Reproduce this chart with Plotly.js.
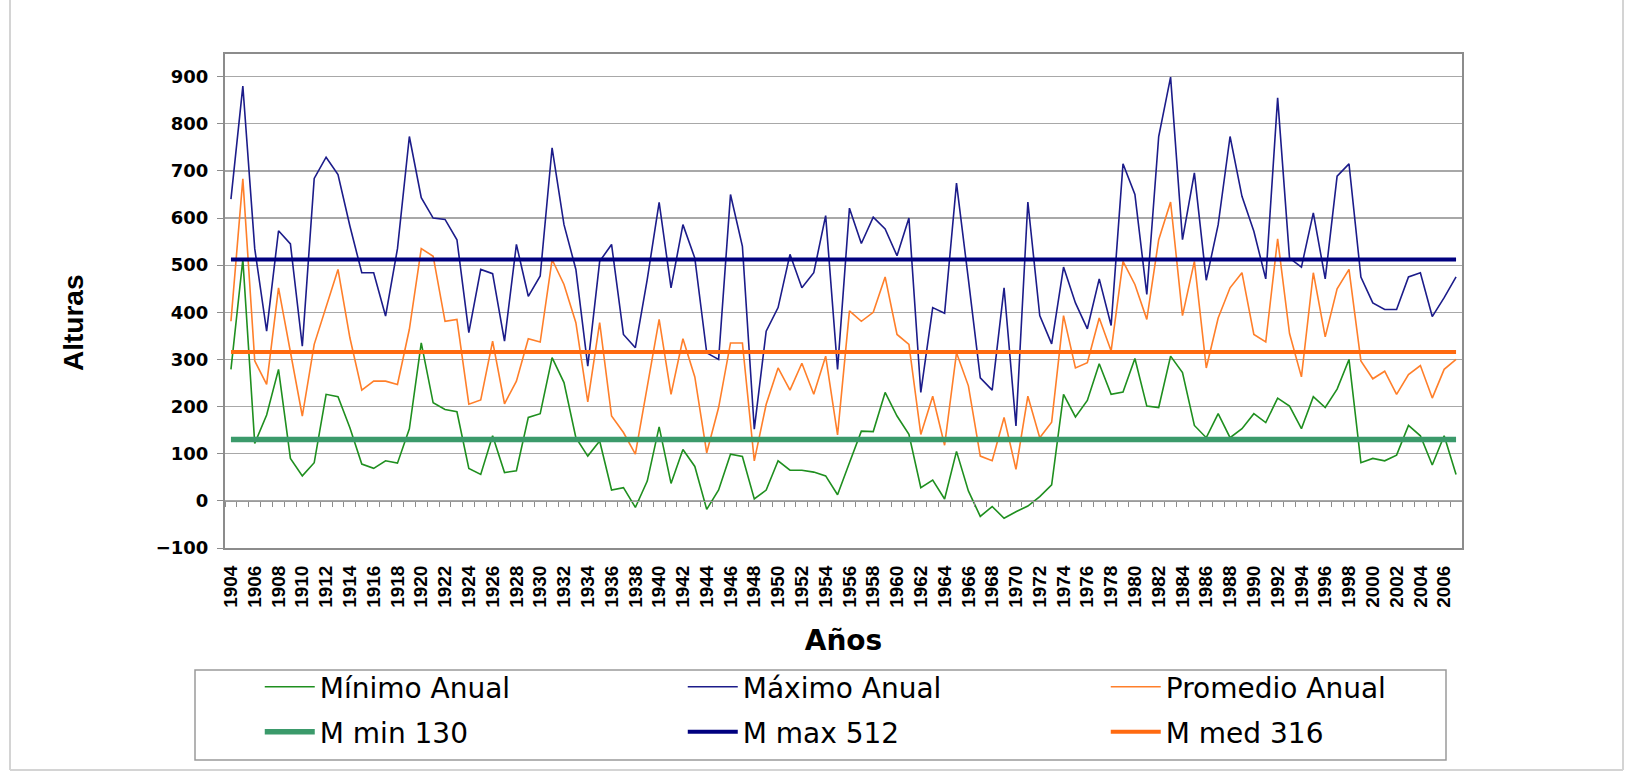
<!DOCTYPE html>
<html>
<head>
<meta charset="utf-8">
<script src="https://cdn.plot.ly/plotly-3.0.1.min.js"></script>
<style>
  html, body { margin: 0; padding: 0; background: #ffffff; }
  #chart { width: 1625px; height: 772px; }
</style>
</head>
<body>
<div id="chart"></div>
<script>
const years = [
  1904, 1905, 1906, 1907, 1908, 1909, 1910, 1911, 1912, 1913,
  1914, 1915, 1916, 1917, 1918, 1919, 1920, 1921, 1922, 1923,
  1924, 1925, 1926, 1927, 1928, 1929, 1930, 1931, 1932, 1933,
  1934, 1935, 1936, 1937, 1938, 1939, 1940, 1941, 1942, 1943,
  1944, 1945, 1946, 1947, 1948, 1949, 1950, 1951, 1952, 1953,
  1954, 1955, 1956, 1957, 1958, 1959, 1960, 1961, 1962, 1963,
  1964, 1965, 1966, 1967, 1968, 1969, 1970, 1971, 1972, 1973,
  1974, 1975, 1976, 1977, 1978, 1979, 1980, 1981, 1982, 1983,
  1984, 1985, 1986, 1987, 1988, 1989, 1990, 1991, 1992, 1993,
  1994, 1995, 1996, 1997, 1998, 1999, 2000, 2001, 2002, 2003,
  2004, 2005, 2006, 2007
];

const minimoAnual = [
  279, 512, 122, 182, 279, 90, 53, 81, 226, 221,
  155, 78, 69, 85, 80, 153, 335, 208, 194, 189,
  69, 56, 138, 60, 64, 177, 185, 304, 251, 134,
  95, 127, 23, 28, -14, 42, 157, 37, 109, 73,
  -18, 23, 99, 94, 4, 23, 85, 65, 65, 61,
  53, 13, 81, 148, 147, 230, 180, 141, 28, 44,
  4, 105, 21, -33, -12, -37, -23, -11, 9, 34,
  226, 178, 213, 291, 226, 231, 302, 201, 198, 307,
  272, 160, 134, 185, 134, 153, 185, 166, 218, 201,
  153, 221, 198, 237, 300, 81, 90, 85, 97, 160,
  138, 76, 138, 56
];

const maximoAnual = [
  640, 880, 535, 360, 573, 545, 328, 684, 729, 692,
  583, 484, 484, 392, 535, 773, 643, 600, 597, 554,
  357, 491, 482, 339, 544, 434, 477, 749, 586, 491,
  286, 508, 544, 353, 325, 470, 633, 452, 586, 515,
  314, 300, 650, 540, 152, 360, 410, 523, 452, 484,
  605, 279, 621, 546, 602, 577, 520, 600, 230, 410,
  398, 674, 470, 261, 235, 452, 159, 634, 393, 333,
  496, 420, 365, 471, 372, 715, 650, 438, 773, 899,
  554, 696, 468, 586, 773, 646, 572, 471, 855, 515,
  496, 611, 471, 689, 715, 475, 420, 406, 406, 475,
  484, 391, 431, 475
];

const promedioAnual = [
  381, 683, 297, 247, 452, 320, 180, 332, 413, 491,
  346, 235, 254, 254, 247, 364, 535, 519, 381, 385,
  205, 214, 339, 206, 254, 344, 337, 512, 459, 378,
  210, 378, 180, 145, 99, 240, 385, 226, 344, 263,
  102, 198, 335, 335, 85, 205, 282, 235, 292, 226,
  307, 140, 403, 381, 400, 475, 353, 332, 141, 222,
  118, 314, 244, 95, 85, 177, 67, 222, 134, 167,
  393, 282, 293, 388, 318, 508, 459, 385, 554, 634,
  393, 508, 282, 388, 452, 484, 353, 337, 556, 355,
  263, 484, 348, 450, 491, 297, 259, 275, 226, 268,
  287, 218, 279, 300
];

const meanMin = 130;
const meanMax = 512;
const meanMed = 316;

const tickYears = [
  1904, 1906, 1908, 1910, 1912, 1914, 1916, 1918, 1920, 1922,
  1924, 1926, 1928, 1930, 1932, 1934, 1936, 1938, 1940, 1942,
  1944, 1946, 1948, 1950, 1952, 1954, 1956, 1958, 1960, 1962,
  1964, 1966, 1968, 1970, 1972, 1974, 1976, 1978, 1980, 1982,
  1984, 1986, 1988, 1990, 1992, 1994, 1996, 1998, 2000, 2002,
  2004, 2006
];
const tickLabels = tickYears.map(String);

const FONT = 'Liberation Sans, Arial, sans-serif';
const WIDE = 'DejaVu Sans, Verdana, sans-serif';
const first = years[0], last = years[years.length - 1];
const span = [first, last];

const traces = [
  { x: years, y: minimoAnual, name: 'Mínimo Anual', mode: 'lines', type: 'scatter',
    line: { color: '#1f8f1f', width: 1.6 }, legend: 'legend' },
  { x: years, y: maximoAnual, name: 'Máximo Anual', mode: 'lines', type: 'scatter',
    line: { color: '#1c1c8a', width: 1.6 }, legend: 'legend' },
  { x: years, y: promedioAnual, name: 'Promedio Anual', mode: 'lines', type: 'scatter',
    line: { color: '#ff7f2a', width: 1.6 }, legend: 'legend' },
  { x: span, y: [meanMin, meanMin], name: 'M min 130', mode: 'lines', type: 'scatter',
    xaxis: 'x2', line: { color: '#3b9a6b', width: 5.5 }, legend: 'legend2' },
  { x: span, y: [meanMax, meanMax], name: 'M max 512', mode: 'lines', type: 'scatter',
    xaxis: 'x2', line: { color: '#00007f', width: 4 }, legend: 'legend2' },
  { x: span, y: [meanMed, meanMed], name: 'M med 316', mode: 'lines', type: 'scatter',
    xaxis: 'x2', line: { color: '#ff6a10', width: 4 }, legend: 'legend2' }
];

const yMin = -100, yMax = 948;
const xr = [first - 0.5, last + 0.5];

// pixel helpers for paper coordinates (plot area 225..1462 x 54..548)
const PL = 225, PW = 1237, PB = 548, PH = 494;
const px = v => (v - PL) / PW;
const py = v => (PB - v) / PH;

const legendCommon = {
  orientation: 'h', xanchor: 'left', yanchor: 'middle', x: -0.001,
  font: { family: WIDE, size: 28, color: '#000' },
  bgcolor: 'rgba(0,0,0,0)', borderwidth: 0,
  itemwidth: 50, entrywidth: 322, entrywidthmode: 'pixels', indentation: 36,
  traceorder: 'normal', itemclick: false, itemdoubleclick: false
};

const layout = {
  width: 1625, height: 772,
  margin: { l: 225, r: 163, t: 54, b: 224 },
  paper_bgcolor: '#ffffff', plot_bgcolor: '#ffffff',
  font: { family: FONT, color: '#000' },
  showlegend: true,
  legend: Object.assign({}, legendCommon, { y: py(687) }),
  legend2: Object.assign({}, legendCommon, { y: py(732) }),
  xaxis: {
    type: 'linear', range: xr, tickmode: 'array', tickvals: tickYears, ticktext: tickLabels,
    tickangle: -90, ticks: '', ticklabelstandoff: 8,
    tickfont: { family: FONT, size: 19, weight: 'bold', color: '#000' },
    showgrid: false, zeroline: false,
    showline: true, mirror: true, linecolor: '#8c8c8c', linewidth: 2,
    title: { text: 'Años', font: { family: WIDE, size: 28, weight: 'bold', color: '#000' }, standoff: 24 },
    fixedrange: true
  },
  xaxis2: {
    type: 'linear', range: xr, overlaying: 'x', anchor: 'free',
    position: (0 - yMin) / (yMax - yMin), side: 'bottom',
    tickmode: 'linear', tick0: first + 0.5, dtick: 1,
    ticks: 'outside', ticklen: 5, tickwidth: 1, tickcolor: '#8c8c8c',
    showticklabels: false, showgrid: false, zeroline: false,
    showline: true, linecolor: '#9a9a9a', linewidth: 1.2, fixedrange: true
  },
  yaxis: {
    range: [yMin, yMax], tickmode: 'linear', tick0: 0, dtick: 100,
    ticks: 'outside', ticklen: 6, tickcolor: '#8c8c8c', ticklabelstandoff: 5,
    tickfont: { family: WIDE, size: 18, weight: 'bold', color: '#000' },
    showgrid: true, gridcolor: '#a8a8a8', gridwidth: 1.3,
    zeroline: false, showline: true, mirror: true, linecolor: '#8c8c8c', linewidth: 2,
    fixedrange: true
  },
  annotations: [
    { text: 'Alturas', xref: 'paper', yref: 'paper', x: px(73), y: py(323),
      xanchor: 'center', yanchor: 'middle', textangle: -90, showarrow: false,
      font: { family: FONT, size: 28, weight: 'bold', color: '#000' } }
  ],
  shapes: [
    { type: 'rect', xref: 'paper', yref: 'paper',
      x0: px(195), x1: px(1446), y0: py(760), y1: py(670),
      line: { color: '#9a9a9a', width: 1.5 }, fillcolor: 'rgba(0,0,0,0)', layer: 'below' },
    { type: 'line', xref: 'paper', yref: 'paper',
      x0: px(10), x1: px(10), y0: py(770), y1: py(0),
      line: { color: '#d4d4d4', width: 2 } },
    { type: 'line', xref: 'paper', yref: 'paper',
      x0: px(10), x1: px(1623), y0: py(770), y1: py(770),
      line: { color: '#d4d4d4', width: 2 } },
    { type: 'line', xref: 'paper', yref: 'paper',
      x0: px(1623), x1: px(1623), y0: py(770), y1: py(0),
      line: { color: '#d4d4d4', width: 2 } }
  ]
};

Plotly.newPlot('chart', traces, layout, { displayModeBar: false, staticPlot: true });
</script>
</body>
</html>
